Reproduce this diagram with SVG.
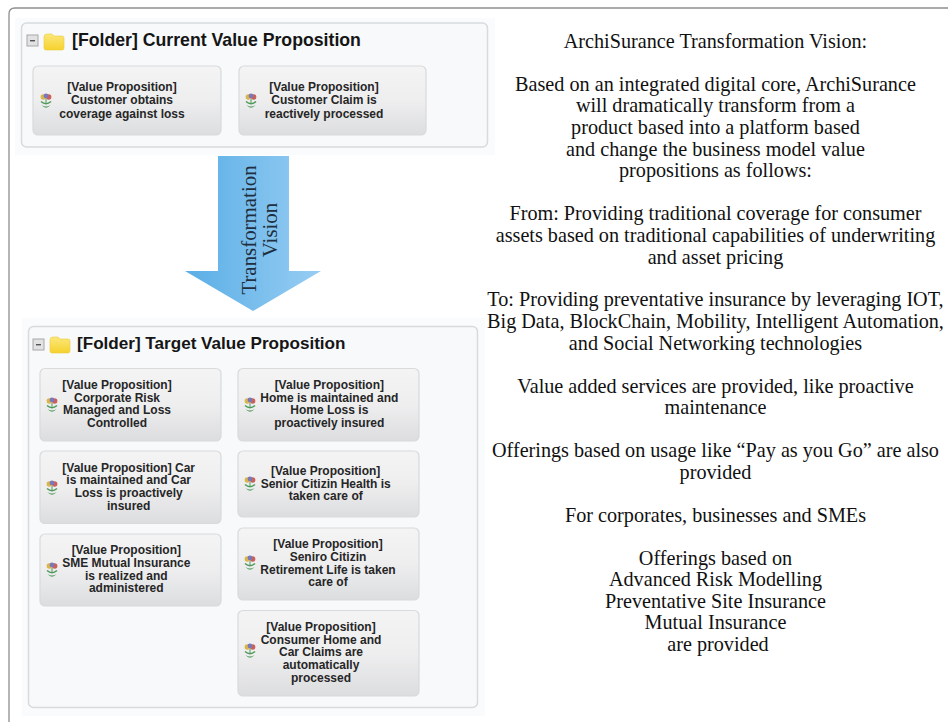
<svg xmlns="http://www.w3.org/2000/svg" width="948" height="724" viewBox="0 0 948 724">
<style>
.folder{fill:#f7f9fb;stroke:#d8dadc;stroke-width:1.5}
.halo{fill:#fafbfd}
.card{fill:url(#cardFill);stroke:#d8dadc;stroke-width:1.2}
.ttl{font:bold 17.700px "Liberation Sans",Arial,sans-serif;fill:#151515}
.nt{font:bold 12px "Liberation Sans",Arial,sans-serif;fill:#262626;text-anchor:middle}
.vt{font:20.200px "Liberation Serif","Times New Roman",serif;fill:#111;text-anchor:middle}
.at{font:20.900px "Liberation Serif","Times New Roman",serif;fill:#1f2f3f;text-anchor:middle}
</style>
<defs>
<linearGradient id="cardFill" x1="0" y1="0" x2="0" y2="1"><stop offset="0" stop-color="#f4f4f5"/><stop offset="0.5" stop-color="#eeeeef"/><stop offset="1" stop-color="#dcdddf"/></linearGradient>
<linearGradient id="arrowFill" x1="0" y1="0" x2="1" y2="0"><stop offset="0" stop-color="#5aaee6"/><stop offset="1" stop-color="#97cdf3"/></linearGradient>
<linearGradient id="folderFill" x1="0" y1="0" x2="0" y2="1"><stop offset="0" stop-color="#fbe77a"/><stop offset="1" stop-color="#f6d22e"/></linearGradient>
<symbol id="flower" overflow="visible">
<path d="M-5 2.500Q0 7 5 2.500" fill="none" stroke="#4f9a5a" stroke-width="1.600"/>
<path d="M-4.500 6Q0 9 4.500 6Q0 11.500-4.500 6Z" fill="#4f9a5a"/>
<circle cx="-2.700" cy="-2" r="2.700" fill="#d9b64a"/>
<circle cx="2.700" cy="-2" r="2.700" fill="#c9605a"/>
<circle cx="0" cy="-3" r="2.400" fill="#7b77b8"/>
<path d="M0 0v5" stroke="#4f9a5a" stroke-width="1"/>
</symbol>
<g id="collapse"><rect x="0" y="0" width="11" height="11" fill="#e2e2e2" stroke="#a8a8a8"/><rect x="3" y="5" width="5" height="1.400" fill="#555"/></g>
<g id="folderIcon"><path d="M0 3Q0 0 3 0H8L10 2H18Q20 2 20 4V14Q20 16 18 16H2Q0 16 0 14Z" fill="url(#folderFill)" stroke="#eccb3a" stroke-width=".6"/></g>
</defs>
<rect width="948" height="724" fill="#ffffff"/>
<path d="M948 8H15Q9 8 9 14V722" fill="none" stroke="#8f8f8f" stroke-width="1.300"/>

<g id="current-folder">
<rect class="halo" x="15" y="18" width="480" height="137"/>
<rect class="folder" x="21.500" y="23" width="466" height="124" rx="5"/>
<use href="#collapse" x="27" y="35"/>
<use href="#folderIcon" x="44" y="34"/>
<text class="ttl" x="72" y="46">[Folder] Current Value Proposition</text>
</g>
<g id="vp-current-1"><rect class="card" x="33" y="66" width="188" height="69" rx="5"/><use href="#flower" x="46" y="99"/>
<text class="nt"><tspan x="122" y="90.500">[Value Proposition]</tspan><tspan x="122" y="104">Customer obtains</tspan><tspan x="122" y="117.500">coverage against loss</tspan></text></g>
<g id="vp-current-2"><rect class="card" x="239" y="66" width="187" height="69" rx="5"/><use href="#flower" x="251" y="99"/>
<text class="nt"><tspan x="324" y="90.500">[Value Proposition]</tspan><tspan x="324" y="104">Customer Claim is</tspan><tspan x="324" y="117.500">reactively processed</tspan></text></g>

<g id="target-folder">
<rect class="halo" x="22" y="318" width="463" height="398"/>
<rect class="folder" x="28.500" y="326.500" width="449" height="381" rx="5"/>
<use href="#collapse" x="33" y="339"/>
<use href="#folderIcon" x="50" y="337"/>
<text class="ttl" x="77" y="349" style="font-size:17.100px">[Folder] Target Value Proposition</text>
</g>
<g id="vp-target-1"><rect class="card" x="40" y="368.500" width="181" height="72.500" rx="5"/><use href="#flower" x="52" y="403"/>
<text class="nt"><tspan x="117" y="389">[Value Proposition]</tspan><tspan x="117" y="401.700">Corporate Risk</tspan><tspan x="117" y="414.300">Managed and Loss</tspan><tspan x="117" y="427">Controlled</tspan></text></g>
<g id="vp-target-2"><rect class="card" x="40" y="451" width="181" height="72.500" rx="5"/><use href="#flower" x="52" y="486"/>
<text class="nt"><tspan x="128.700" y="471.700">[Value Proposition] Car</tspan><tspan x="128.700" y="484">is maintained and Car</tspan><tspan x="128.700" y="497">Loss is proactively</tspan><tspan x="128.700" y="509.700">insured</tspan></text></g>
<g id="vp-target-3"><rect class="card" x="40" y="534" width="181" height="72" rx="5"/><use href="#flower" x="52" y="568"/>
<text class="nt"><tspan x="126.300" y="554.300">[Value Proposition]</tspan><tspan x="126.300" y="567">SME Mutual Insurance</tspan><tspan x="126.300" y="579.700">is realized and</tspan><tspan x="126.300" y="592">administered</tspan></text></g>
<g id="vp-target-4"><rect class="card" x="238" y="368.500" width="181" height="72.500" rx="5"/><use href="#flower" x="250" y="403"/>
<text class="nt"><tspan x="329.300" y="389">[Value Proposition]</tspan><tspan x="329.300" y="401.700">Home is maintained and</tspan><tspan x="329.300" y="414.300">Home Loss is</tspan><tspan x="329.300" y="427">proactively insured</tspan></text></g>
<g id="vp-target-5"><rect class="card" x="238" y="451" width="181" height="66" rx="5"/><use href="#flower" x="250" y="482"/>
<text class="nt"><tspan x="325.700" y="474.700">[Value Proposition]</tspan><tspan x="325.700" y="487.700">Senior Citizin Health is</tspan><tspan x="325.700" y="500.300">taken care of</tspan></text></g>
<g id="vp-target-6"><rect class="card" x="238" y="528" width="181" height="72" rx="5"/><use href="#flower" x="250" y="561"/>
<text class="nt"><tspan x="328" y="548">[Value Proposition]</tspan><tspan x="328" y="560.700">Seniro Citizin</tspan><tspan x="328" y="573.700">Retirement Life is taken</tspan><tspan x="328" y="586.300">care of</tspan></text></g>
<g id="vp-target-7"><rect class="card" x="238" y="610.500" width="181" height="85.500" rx="5"/><use href="#flower" x="250" y="649"/>
<text class="nt"><tspan x="321" y="631">[Value Proposition]</tspan><tspan x="321" y="643.700">Consumer Home and</tspan><tspan x="321" y="656">Car Claims are</tspan><tspan x="321" y="669">automatically</tspan><tspan x="321" y="682">processed</tspan></text></g>

<g id="connectors">
<g id="transformation-arrow">
<path d="M218 156H289V271H321L253 311L185 271H218Z" fill="url(#arrowFill)"/>
<text class="at" transform="translate(256 230) rotate(-90)">Transformation</text>
<text class="at" transform="translate(277 230) rotate(-90)">Vision</text>
</g>
</g>

<g id="vision-text" transform="translate(1.500 1)">
<text class="vt">
<tspan x="716.500" y="47">ArchiSurance Transformation Vision:</tspan>
<tspan x="716.500" y="90">Based on an integrated digital core, ArchiSurance</tspan>
<tspan x="716.500" y="111">will dramatically transform from a</tspan>
<tspan x="716.500" y="133">product based into a platform based</tspan>
<tspan x="716.500" y="155">and change the business model value</tspan>
<tspan x="716.500" y="176">propositions as follows:</tspan>
<tspan x="716.500" y="219">From: Providing traditional coverage for consumer</tspan>
<tspan x="716.500" y="241">assets based on traditional capabilities of underwriting</tspan>
<tspan x="716.500" y="263">and asset pricing</tspan>
<tspan x="716.500" y="305">To: Providing preventative insurance by leveraging IOT,</tspan>
<tspan x="716.500" y="327">Big Data, BlockChain, Mobility, Intelligent Automation,</tspan>
<tspan x="716.500" y="349">and Social Networking technologies</tspan>
<tspan x="716.500" y="392">Value added services are provided, like proactive</tspan>
<tspan x="716.500" y="413">maintenance</tspan>
<tspan x="716.500" y="456">Offerings based on usage like “Pay as you Go” are also</tspan>
<tspan x="716.500" y="478">provided</tspan>
<tspan x="716.500" y="521">For corporates, businesses and SMEs</tspan>
<tspan x="716.500" y="564">Offerings based on</tspan>
<tspan x="716.500" y="585">Advanced Risk Modelling</tspan>
<tspan x="716.500" y="607">Preventative Site Insurance</tspan>
<tspan x="716.500" y="628">Mutual Insurance</tspan>
<tspan x="716.500" y="650">are provided</tspan>
</text>
</g>
</svg>
